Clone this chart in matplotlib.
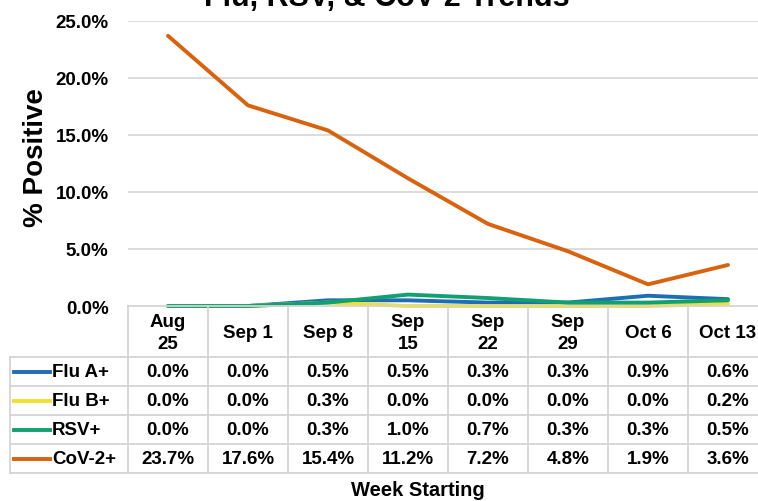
import matplotlib.pyplot as plt
import numpy as np

plt.rcParams['font.family'] = ['Liberation Sans', 'DejaVu Sans']
plt.rcParams['font.weight'] = 'bold'

# data
weeks = ['Aug\n25', 'Sep 1', 'Sep 8', 'Sep\n15', 'Sep\n22', 'Sep\n29', 'Oct 6', 'Oct 13']
series = ['Flu A+', 'Flu B+', 'RSV+', 'CoV-2+']
flu_a = [0.0, 0.0, 0.5, 0.5, 0.3, 0.3, 0.9, 0.6]
flu_b = [0.0, 0.0, 0.3, 0.0, 0.0, 0.0, 0.0, 0.2]
rsv = [0.0, 0.0, 0.3, 1.0, 0.7, 0.3, 0.3, 0.5]
cov2 = [23.7, 17.6, 15.4, 11.2, 7.2, 4.8, 1.9, 3.6]
yticks = [0, 5, 10, 15, 20, 25]

values = [flu_a, flu_b, rsv, cov2]
colors = ['#1F6EB5', '#F0E030', '#13A070', '#D8620E']

W, H = 758, 502
fig = plt.figure(figsize=(W / 100, H / 100), dpi=100)

# plot area (pixel layout)
left, colw = 128, 80
top0, bot0 = 22, 307
ax = fig.add_axes([left / W, (H - bot0) / H, colw * len(weeks) / W, (bot0 - top0) / H])
x = np.arange(len(weeks))
for vals, c in zip(values, colors):
    ax.plot(x, vals, color=c, lw=2.8, solid_capstyle='round', clip_on=False)

ax.set_xlim(-0.5, len(weeks) - 0.5)
ax.set_ylim(0, 25)
ax.set_yticks(yticks)
ax.set_yticklabels([f'{v:.1f}%' for v in yticks], fontsize=13.5, fontweight='bold')
ax.set_xticks([])
ax.tick_params(axis='y', length=0, pad=14)
for s in ax.spines.values():
    s.set_visible(False)
for v in yticks[1:]:
    ax.axhline(v, color='#D9D9D9', lw=1.3, zorder=0)

fig.text(387 / W, (H - 6) / H, 'Flu, RSV, & CoV-2 Trends', fontsize=22,
         fontweight='bold', ha='center', va='baseline')
fig.text(36 / W, (H - 158) / H, '% Positive', fontsize=20, fontweight='bold',
         rotation=90, ha='center', va='center')
fig.text(418 / W, (H - 491) / H, 'Week Starting', fontsize=14.5,
         fontweight='bold', ha='center', va='center')

# data table below the axes, in pixel coordinates
tax = fig.add_axes([0, 0, 1, 1])
tax.set_xlim(0, W)
tax.set_ylim(H, 0)
tax.axis('off')
tax.patch.set_visible(False)

grid_c = '#D4D4D4'
head_bot = 358
row_h = 29
label_left = 10
rows_y = [head_bot + row_h * i for i in range(len(series) + 1)]
tbl_bot = rows_y[-1]

tax.plot([left, W], [bot0, bot0], color=grid_c, lw=1.3)
for y in rows_y:
    tax.plot([label_left, W], [y, y], color=grid_c, lw=1.3)
tax.plot([label_left, label_left], [head_bot, tbl_bot], color=grid_c, lw=1.3)
for i in range(len(weeks) + 1):
    xx = left + colw * i
    tax.plot([xx, xx], [bot0, tbl_bot], color=grid_c, lw=1.3)

for i, wk in enumerate(weeks):
    tax.text(left + colw * (i + 0.5), (bot0 + head_bot) / 2 + 1, wk, fontsize=13.5,
             fontweight='bold', ha='center', va='center', linespacing=1.45)

for r, (name, vals, c) in enumerate(zip(series, values, colors)):
    yc = rows_y[r] + row_h / 2
    tax.plot([14, 50], [yc, yc], color=c, lw=2.8)
    tax.text(52, yc, name, fontsize=13.5, fontweight='bold', ha='left', va='center')
    for i, v in enumerate(vals):
        tax.text(left + colw * (i + 0.5), yc, f'{v:.1f}%', fontsize=13.5,
                 fontweight='bold', ha='center', va='center')

fig.savefig('out.png', dpi=100)
